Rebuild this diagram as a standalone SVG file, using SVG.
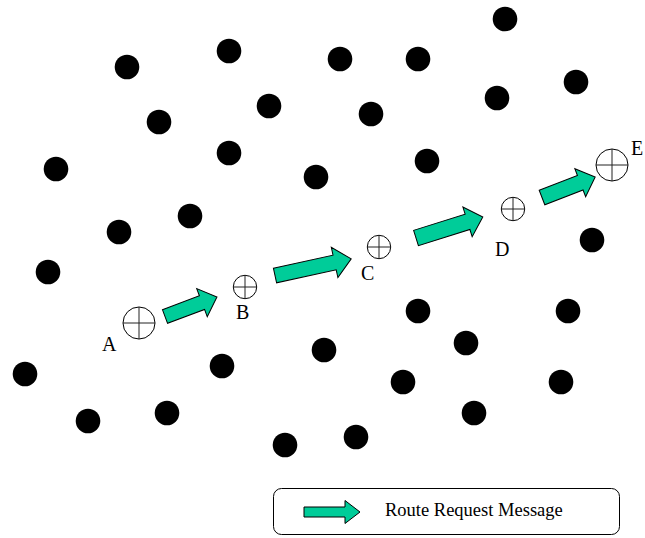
<svg xmlns="http://www.w3.org/2000/svg" xmlns:xlink="http://www.w3.org/1999/xlink" width="645" height="538" viewBox="0 0 645 538">
  <style>
    .dot { fill: #000; }
    .hop circle { fill: #fff; stroke: #000; stroke-width: 1; }
    .hop line { stroke: #222; stroke-width: 1; }
    .lbl { font-family: "Liberation Serif", "Times New Roman", serif; font-size: 20px; fill: #000; }
    .msg { fill: #00CC99; stroke: #000; stroke-width: 1; stroke-linejoin: miter; }
    .legend-text { font-family: "Liberation Serif", "Times New Roman", serif; font-size: 18.5px; fill: #000; }
  </style>
  <rect width="645" height="538" fill="#fff"/>

  <!-- idle network nodes -->
  <g id="idle-nodes">
    <g id="n01"><circle class="dot" cx="505" cy="19" r="12.3"/></g>
    <g id="n02"><circle class="dot" cx="127" cy="67" r="12.3"/></g>
    <g id="n03"><circle class="dot" cx="229" cy="51" r="12.3"/></g>
    <g id="n04"><circle class="dot" cx="340" cy="59" r="12.3"/></g>
    <g id="n05"><circle class="dot" cx="418" cy="59" r="12.3"/></g>
    <g id="n06"><circle class="dot" cx="576" cy="82" r="12.3"/></g>
    <g id="n07"><circle class="dot" cx="497" cy="98" r="12.3"/></g>
    <g id="n08"><circle class="dot" cx="269" cy="106" r="12.3"/></g>
    <g id="n09"><circle class="dot" cx="371" cy="114" r="12.3"/></g>
    <g id="n10"><circle class="dot" cx="159" cy="122" r="12.3"/></g>
    <g id="n11"><circle class="dot" cx="229" cy="153" r="12.3"/></g>
    <g id="n12"><circle class="dot" cx="427" cy="161" r="12.3"/></g>
    <g id="n13"><circle class="dot" cx="56" cy="169" r="12.3"/></g>
    <g id="n14"><circle class="dot" cx="316" cy="177" r="12.3"/></g>
    <g id="n15"><circle class="dot" cx="190" cy="216" r="12.3"/></g>
    <g id="n16"><circle class="dot" cx="119" cy="232" r="12.3"/></g>
    <g id="n17"><circle class="dot" cx="592" cy="240" r="12.3"/></g>
    <g id="n18"><circle class="dot" cx="48" cy="272" r="12.3"/></g>
    <g id="n19"><circle class="dot" cx="418" cy="311" r="12.3"/></g>
    <g id="n20"><circle class="dot" cx="568" cy="311" r="12.3"/></g>
    <g id="n21"><circle class="dot" cx="466" cy="343" r="12.3"/></g>
    <g id="n22"><circle class="dot" cx="324" cy="350" r="12.3"/></g>
    <g id="n23"><circle class="dot" cx="222" cy="366" r="12.3"/></g>
    <g id="n24"><circle class="dot" cx="25" cy="374" r="12.3"/></g>
    <g id="n25"><circle class="dot" cx="403" cy="382" r="12.3"/></g>
    <g id="n26"><circle class="dot" cx="561" cy="382" r="12.3"/></g>
    <g id="n27"><circle class="dot" cx="167" cy="413" r="12.3"/></g>
    <g id="n28"><circle class="dot" cx="88" cy="421" r="12.3"/></g>
    <g id="n29"><circle class="dot" cx="474" cy="413" r="12.3"/></g>
    <g id="n30"><circle class="dot" cx="356" cy="437" r="12.3"/></g>
    <g id="n31"><circle class="dot" cx="285" cy="445" r="12.3"/></g>
  </g>

  <!-- route hops A..E -->
  <g id="node-A" class="hop">
    <circle cx="139" cy="323" r="16"/>
    <line x1="123" y1="323" x2="155" y2="323"/>
    <line x1="139" y1="307" x2="139" y2="339"/>
    <text class="lbl" x="102" y="351">A</text>
  </g>
  <g id="node-B" class="hop">
    <circle cx="245" cy="287" r="11.7"/>
    <line x1="233.3" y1="287" x2="256.7" y2="287"/>
    <line x1="245" y1="275.3" x2="245" y2="298.7"/>
    <text class="lbl" x="236" y="319">B</text>
  </g>
  <g id="node-C" class="hop">
    <circle cx="379" cy="247" r="11.7"/>
    <line x1="367.3" y1="247" x2="390.7" y2="247"/>
    <line x1="379" y1="235.3" x2="379" y2="258.7"/>
    <text class="lbl" x="361" y="280">C</text>
  </g>
  <g id="node-D" class="hop">
    <circle cx="513" cy="209" r="11.7"/>
    <line x1="501.3" y1="209" x2="524.7" y2="209"/>
    <line x1="513" y1="197.3" x2="513" y2="220.7"/>
    <text class="lbl" x="495" y="256">D</text>
  </g>
  <g id="node-E" class="hop">
    <circle cx="612" cy="165" r="16"/>
    <line x1="596" y1="165" x2="628" y2="165"/>
    <line x1="612" y1="149" x2="612" y2="181"/>
    <text class="lbl" x="631" y="155">E</text>
  </g>

  <!-- route request messages between hops -->
  <g id="connectors">
    <path class="msg" transform="translate(165,316.5) rotate(-20.6)" d="M0,-7.3 H39.5 V-15 L55.5,0 L39.5,15 V7.3 H0 Z"/>
    <path class="msg" transform="translate(275,275.5) rotate(-12.3)" d="M0,-7.5 H61 V-15.5 L78,0 L61,15.5 V7.5 H0 Z"/>
    <path class="msg" transform="translate(416,238) rotate(-17.4)" d="M0,-8 H54 V-15.5 L70,0 L54,15.5 V8 H0 Z"/>
    <path class="msg" transform="translate(542,197.5) rotate(-21.1)" d="M0,-7.8 H41 V-15 L57,0 L41,15 V7.8 H0 Z"/>
  </g>

  <!-- legend -->
  <g id="legend">
    <rect x="273.5" y="488.5" width="346" height="46" rx="8" ry="8" fill="#fff" stroke="#000" stroke-width="1"/>
    <path class="msg" d="M304,507 H345 V500.5 L360,512 L345,523.5 V517 H304 Z"/>
    <text class="legend-text" x="385" y="516">Route Request Message</text>
  </g>
</svg>
